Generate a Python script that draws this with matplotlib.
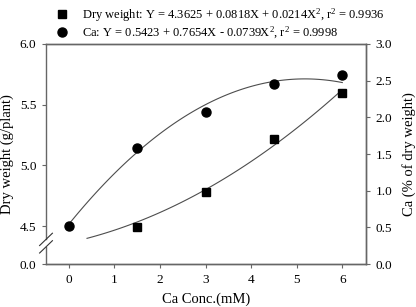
import matplotlib
matplotlib.use("Agg")
import matplotlib.pyplot as plt
import numpy as np

plt.rcParams['font.family'] = ['Liberation Serif', 'DejaVu Serif']
plt.rcParams['mathtext.fontset'] = 'custom'
plt.rcParams['mathtext.rm'] = 'Liberation Serif'
plt.rcParams['mathtext.it'] = 'Liberation Serif:italic'

# data
conc = [0, 1.5, 3, 4.5, 6]
dry_x = [1.5, 3, 4.5, 6]
dry_weight = [4.49, 4.78, 5.22, 5.60]
ca_pct = [0.52, 1.58, 2.07, 2.45, 2.58]

# fitted equations (from legend)
dry_coef = [0.0214, 0.0818, 4.3625]
ca_coef = [-0.0739, 0.7654, 0.5423]

left_ticks = [4.5, 5.0, 5.5, 6.0]
right_ticks = [0.0, 0.5, 1.0, 1.5, 2.0, 2.5, 3.0]
x_ticks = [0, 1, 2, 3, 4, 5, 6]

dry_label = r'Dry weight: Y = 4.3625 + 0.0818X + 0.0214X$^2$, r$^2$ = 0.9936'
ca_label = r'Ca: Y = 0.5423 + 0.7654X - 0.0739X$^2$, r$^2$ = 0.9998'

spine_c = '0.4'
line_c = '0.3'

fig = plt.figure(figsize=(4.16, 3.07), dpi=100)
ax = fig.add_axes([0.1106, 0.140, 0.7692, 0.7167])
ax2 = ax.twinx()

# left axis broken: bottom of axis labelled 0.0
ybot = 4.187
ax.set_ylim(ybot, 6.0)
ax.set_yticks([ybot] + left_ticks)
ax.set_yticklabels(['0.0'] + ['%.1f' % t for t in left_ticks])
ax.set_xlim(-0.5, 6.52)
ax.set_xticks(x_ticks)

xs = np.linspace(0.4, 6, 100)
ax.plot(xs, np.polyval(dry_coef, xs), color=line_c, lw=0.8)
sq, = ax.plot(dry_x, dry_weight, 's', color='black', ms=5.3, label=dry_label)

ax2.set_ylim(0, 3.0)
ax2.set_yticks(right_ticks)
ax2.set_yticklabels(['%.1f' % t for t in right_ticks])
xc = np.linspace(0, 6, 100)
ax2.plot(xc, np.polyval(ca_coef, xc), color=line_c, lw=0.8)
ci, = ax2.plot(conc, ca_pct, 'o', color='black', ms=6.5, label=ca_label)

for a in (ax, ax2):
    for s in a.spines.values():
        s.set_color(spine_c)
        s.set_linewidth(1.0)
    a.tick_params(direction='out', length=3, color=spine_c, labelsize=9.5, pad=4)

# left spine with break
ax.spines['left'].set_visible(False)
ax2.spines['left'].set_visible(False)
g0, g1 = 0.078, 0.112
ax.plot([0, 0], [0, g0], color=spine_c, lw=1.0, transform=ax.transAxes, clip_on=False)
ax.plot([0, 0], [g1, 1], color=spine_c, lw=1.0, transform=ax.transAxes, clip_on=False)
dx, dy = 0.02, 0.028
for g in (g0, g1):
    ax.plot([-dx, dx], [g - dy, g + dy], color='0.2', lw=0.8,
            transform=ax.transAxes, clip_on=False)

ax.set_xlabel('Ca Conc.(mM)', fontsize=10.5, labelpad=5)
ax.set_ylabel('Dry weight (g/plant)', fontsize=10.5, labelpad=4)
ax2.set_ylabel('Ca (% of dry weight)', fontsize=10.5, labelpad=7)

fig.legend(handles=[sq, ci], loc='upper left', bbox_to_anchor=(0.118, 0.995),
           frameon=False, fontsize=9.0, handletextpad=1.0, labelspacing=0.05,
           handlelength=1.2, borderaxespad=0)

fig.savefig('out.png', dpi=100)
